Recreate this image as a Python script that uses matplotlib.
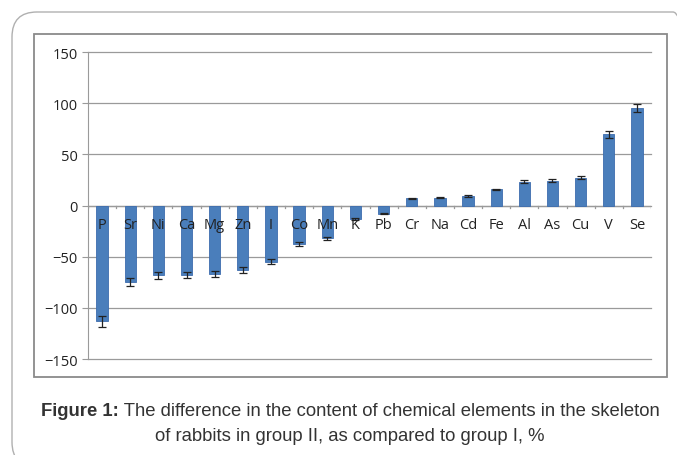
import matplotlib
matplotlib.use("Agg")
import matplotlib.pyplot as plt
from matplotlib.patches import FancyBboxPatch, Rectangle
from matplotlib.transforms import IdentityTransform
import numpy as np

# element data (difference group II vs group I, %)
elements = ["P", "Sr", "Ni", "Ca", "Mg", "Zn", "I", "Co", "Mn", "K",
            "Pb", "Cr", "Na", "Cd", "Fe", "Al", "As", "Cu", "V", "Se"]
values = [-113, -75, -68, -68, -67, -63, -55, -38, -32, -13,
          -8, 7, 7.5, 9.5, 16, 23, 24, 27, 69.5, 95.5]
errors = [5.5, 4, 3.5, 3, 3, 3, 2.5, 2, 1.5, 1,
          0.5, 0.5, 0.5, 1, 0.5, 1.5, 1.5, 1.5, 3.5, 4]
yticks = [150, 100, 50, 0, -50, -100, -150]

W, H = 677, 456
fig = plt.figure(figsize=(W / 100, H / 100), dpi=100)

# outer rounded panel (pixel coords, origin bottom-left)
outer = FancyBboxPatch((12, H - 468), 686, 455,
                       boxstyle="round,pad=0,rounding_size=25",
                       transform=IdentityTransform(), fill=False,
                       edgecolor="#b0b0b0", linewidth=1.0, clip_on=False)
fig.patches.append(outer)

# chart frame
frame = Rectangle((34 / W, 1 - 378 / H), 633 / W, 343 / H,
                  transform=fig.transFigure, fill=False,
                  edgecolor="#8a8a8a", linewidth=1.3)
fig.patches.append(frame)

ax = fig.add_axes([88 / W, 1 - 360 / H, 563 / W, 307 / H])

x = np.arange(len(elements))
ax.bar(x, values, width=0.4, color="#4a7ebb", edgecolor="#3c6cae",
       linewidth=0.6, zorder=3)
ax.errorbar(x, values, yerr=errors, fmt="none", ecolor="#222222",
            elinewidth=0.9, capsize=3, capthick=0.9, zorder=4)

ax.set_xlim(-0.5, len(elements) - 0.5)
ax.set_ylim(-150, 150)
ax.set_yticks(yticks)
ax.set_yticklabels([str(t).replace("-", "\u2212") for t in yticks])
ax.yaxis.grid(True, color="#9a9a9a", linewidth=0.9, zorder=0)
for gl in ax.get_ygridlines():
    gl.set_clip_on(False)

for s in ["top", "right", "bottom"]:
    ax.spines[s].set_visible(False)
ax.spines["left"].set_color("#9a9a9a")
ax.tick_params(axis="y", length=4, color="#9a9a9a", labelsize=10.5,
               labelcolor="#222222")
for lab in ax.get_yticklabels():
    lab.set_family("Open Sans")

# zero line with category tick marks
ax.axhline(0, color="#9a9a9a", linewidth=0.9, zorder=2)
ax.set_xticks([])
for xb in np.arange(len(elements) + 1) - 0.5:
    ax.plot([xb, xb], [0, -2.5], color="#9a9a9a", linewidth=0.9, zorder=2)

for xi, name in zip(x, elements):
    ax.text(xi, -11, name, ha="center", va="top", fontsize=10.5,
            family="Open Sans", color="#222222", zorder=5)

# caption, first line: bold label + normal text, centred together
cap_size = 13.3
cap_color = "#333333"
renderer = fig.canvas.get_renderer()
bold = fig.text(0, 1 - 412 / H, "Figure 1:", ha="left", va="center",
                fontsize=cap_size, fontweight="bold",
                family="Liberation Sans", color=cap_color)
rest = fig.text(0, 1 - 412 / H,
                " The difference in the content of chemical elements in the skeleton",
                ha="left", va="center", fontsize=cap_size,
                family="Liberation Sans", color=cap_color)
wb = bold.get_window_extent(renderer).width
wr = rest.get_window_extent(renderer).width
x0 = 350.5 - (wb + wr) / 2
bold.set_x(x0 / W)
rest.set_x((x0 + wb) / W)
fig.text(350 / W, 1 - 437 / H,
         "of rabbits in group II, as compared to group I, %",
         ha="center", va="center", fontsize=cap_size,
         family="Liberation Sans", color=cap_color)

fig.savefig("out.png", dpi=100)
